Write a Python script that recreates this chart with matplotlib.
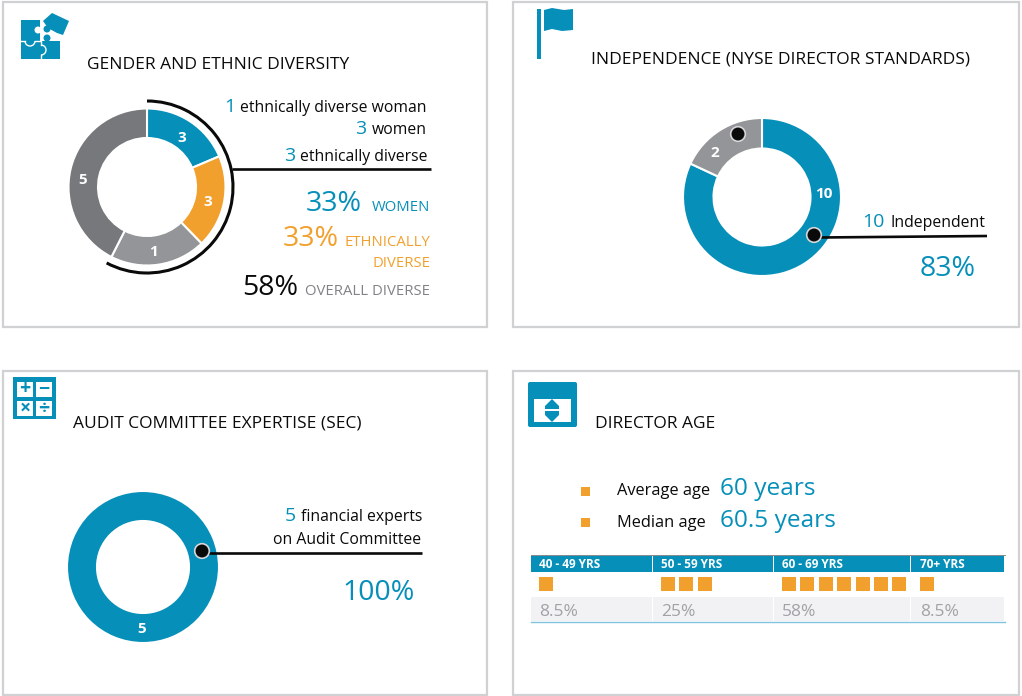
import matplotlib
matplotlib.use('Agg')
import matplotlib.pyplot as plt
from matplotlib.patches import Rectangle, Circle, Arc, Polygon, FancyBboxPatch

plt.rcParams['font.family'] = ['Open Sans', 'DejaVu Sans']

BLUE = '#058fb9'
ORANGE = '#f2a02d'
DARK_GRAY = '#77787b'
LIGHT_GRAY = '#939598'
BORDER = '#d0d1d3'
BLACK = '#0a0a0a'
W, H = 1022, 696

# slice sizes are as drawn in the picture (degrees), labels are the printed counts
gender_sizes = [67, 69, 71, 153]
gender_labels = ['3', '3', '1', '5']
gender_colors = [BLUE, ORANGE, LIGHT_GRAY, DARK_GRAY]

indep_sizes = [295, 65]
indep_labels = ['10', '2']
indep_colors = [BLUE, LIGHT_GRAY]

audit_sizes = [5]
audit_labels = ['5']

age_buckets = ['40 - 49 YRS', '50 - 59 YRS', '60 - 69 YRS', '70+ YRS']
age_counts = [1, 3, 7, 1]
age_pcts = ['8.5%', '25%', '58%', '8.5%']

fig = plt.figure(figsize=(W / 100, H / 100), dpi=100)
ax = fig.add_axes([0, 0, 1, 1])


def Y(py):
    # picture pixels count down from the top
    return H - py


def txt(x, y, s, size, color=BLACK, ha='left', va='baseline', weight='normal'):
    ax.text(x, Y(y), s, fontsize=size, color=color, ha=ha, va=va, fontweight=weight, zorder=7)


def rect(x0, y0, x1, y1, color, zorder=2):
    ax.add_patch(Rectangle((x0, Y(y1)), x1 - x0, y1 - y0, facecolor=color, edgecolor='none', zorder=zorder))


def donut(sizes, colors, cx, cy, r_out, r_in, edge=1.5):
    # the white edge eats about a pixel on each rim
    ax.pie(sizes, colors=colors, startangle=90, counterclock=False, center=(cx, Y(cy)), radius=r_out + 1,
           wedgeprops=dict(width=r_out - r_in + 2, edgecolor='white', linewidth=edge), normalize=True, frame=True)


def dot(x, y):
    ax.add_patch(Circle((x, Y(y)), 7.3, facecolor=BLACK, edgecolor='#d5d6d8', linewidth=1.2, zorder=6))


def hline(x0, x1, y0, y1=None):
    ax.plot([x0, x1], [Y(y0), Y(y0 if y1 is None else y1)], color=BLACK, lw=1.9, solid_capstyle='butt', zorder=5)


# donuts first, ax.pie resets the limits
donut(gender_sizes, gender_colors, 147, 187, 77.5, 50)
donut(indep_sizes, indep_colors, 762, 197, 78, 49.5)
donut(audit_sizes, [BLUE], 143, 567, 75, 47)

# panel borders
for x0, y0, x1, y1 in [(3, 2, 487, 327), (513, 2, 1019, 327), (3, 371, 487, 695), (513, 371, 1019, 695)]:
    ax.add_patch(Rectangle((x0, Y(y1)), x1 - x0, y1 - y0, facecolor='none', edgecolor=BORDER, linewidth=1.6))

# titles
txt(87, 69, 'GENDER AND ETHNIC DIVERSITY', 12.5)
txt(591, 64, 'INDEPENDENCE (NYSE DIRECTOR STANDARDS)', 12.5)
txt(73, 427, 'AUDIT COMMITTEE EXPERTISE (SEC)', 12.5)
txt(595, 428, 'DIRECTOR AGE', 12.5)

# gender panel
for (x, y), s in zip([(182, 138), (208, 202), (153, 252), (83, 180)], gender_labels):
    txt(x, y, s, 11, 'white', ha='center', va='center', weight='bold')
ax.add_patch(Arc((147, Y(187)), 172, 172, theta1=90 - 208, theta2=90, color=BLACK, lw=2.2, zorder=5))
hline(232, 431, 168.7)
txt(427, 112, 'ethnically diverse woman', 11.3, ha='right')
txt(235, 112, '1', 14, BLUE, ha='right')
txt(427, 134, 'women', 11.3, ha='right')
txt(366, 134, '3', 14, BLUE, ha='right')
txt(427, 160.7, 'ethnically diverse', 11.3, ha='right')
txt(295, 160.7, '3', 14, BLUE, ha='right')
txt(362, 211, '33%', 20.5, BLUE, ha='right')
txt(430, 211, 'WOMEN', 10.7, BLUE, ha='right')
txt(339, 245.7, '33%', 20.5, ORANGE, ha='right')
txt(430, 245.7, 'ETHNICALLY', 10.7, ORANGE, ha='right')
txt(430, 266.7, 'DIVERSE', 10.7, ORANGE, ha='right')
txt(298, 295, '58%', 20.5, BLACK, ha='right')
txt(430, 295, 'OVERALL DIVERSE', 10.7, '#808285', ha='right')

# independence panel
txt(824, 194, indep_labels[0], 11, 'white', ha='center', va='center', weight='bold')
txt(715, 153, indep_labels[1], 11, 'white', ha='center', va='center', weight='bold')
dot(738, 134)
dot(814, 235)
hline(820, 987, 237.5, 236)
txt(985, 226.7, 'Independent', 11.3, ha='right')
txt(885, 226.7, '10', 14, BLUE, ha='right')
txt(976, 276, '83%', 20.5, BLUE, ha='right')

# audit panel
txt(142, 629, audit_labels[0], 11, 'white', ha='center', va='center', weight='bold')
dot(202, 551)
hline(208, 422, 552.7)
txt(422, 521, 'financial experts', 11.3, ha='right')
txt(296, 521, '5', 14, BLUE, ha='right')
txt(421, 544, 'on Audit Committee', 11.3, ha='right')
txt(415, 600, '100%', 20.5, BLUE, ha='right')

# age panel
rect(581, 487, 590, 495.5, ORANGE)
rect(581, 518, 590, 526.5, ORANGE)
txt(617, 495, 'Average age', 11.8)
txt(720, 495, '60 years', 17.6, BLUE)
txt(617, 526.7, 'Median age', 11.8)
txt(720, 526.7, '60.5 years', 17.6, BLUE)

col_left = [531, 653, 774, 911]
col_right = [652, 773, 910, 1004]
col_text = [539, 661, 782, 920]
square_step = 18.4
for i, bucket in enumerate(age_buckets):
    rect(col_left[i], 555, col_right[i], 572, BLUE)
    rect(col_left[i], 597, col_right[i], 621, '#f2f2f4')
    txt(col_text[i], 568, bucket, 8.5, 'white', weight='bold')
    txt(col_text[i], 615.7, age_pcts[i], 12.5, '#a0a2a5')
    for k in range(age_counts[i]):
        rect(col_text[i] + k * square_step, 577, col_text[i] + k * square_step + 14, 591, ORANGE)
ax.plot([531, 1005], [Y(555), Y(555)], color='#8a8c8e', lw=0.7, zorder=3)
ax.plot([531, 1005], [Y(621.5), Y(621.5)], color='#7fc4dc', lw=1.0, zorder=3)

# puzzle icon
rect(21, 20, 40, 41, BLUE)
rect(21, 41, 60, 59, BLUE)
ax.add_patch(Polygon([(52, Y(13)), (69, Y(21)), (63, Y(35)), (57, Y(33)), (48, Y(28)), (43, Y(21))],
                     facecolor=BLUE, edgecolor='none', zorder=3))
ax.add_patch(Circle((38, Y(30)), 3.5, facecolor='white', edgecolor='none', zorder=4))
ax.add_patch(Circle((47, Y(29)), 3.5, facecolor=BLUE, edgecolor='none', zorder=5))
ax.add_patch(Circle((47, Y(38)), 3.5, facecolor=BLUE, edgecolor='none', zorder=5))
ax.add_patch(Arc((30, Y(41)), 10, 10, theta1=180, theta2=360, color='white', lw=1.0, zorder=4))
ax.add_patch(Arc((41, Y(50)), 10, 10, theta1=270, theta2=90, color='white', lw=1.0, zorder=4))
ax.plot([21, 25], [Y(41), Y(41)], color='white', lw=1.0, zorder=4)
ax.plot([35, 41, 41], [Y(41), Y(41), Y(45)], color='white', lw=1.0, zorder=4)
ax.plot([41, 41], [Y(55), Y(59)], color='white', lw=1.0, zorder=4)

# flag icon
rect(537, 9, 541, 59, BLUE)
ax.add_patch(Polygon([(544, Y(10)), (552, Y(8)), (564, Y(10)), (573, Y(9)), (573, Y(30)), (562, Y(31)), (552, Y(29)),
                      (544, Y(31))], facecolor=BLUE, edgecolor='none', zorder=3))

# calculator icon
rect(13, 377, 56, 419, BLUE)
for (x0, y0), s in zip([(17, 382), (36, 382), (17, 401), (36, 401)], ['+', '\u2212', '\u00d7', '\u00f7']):
    rect(x0, y0, x0 + 16, y0 + 15, 'white', zorder=3)
    ax.text(x0 + 8, Y(y0 + 7.5), s, fontsize=14, color=BLUE, ha='center', va='center', fontweight='bold', zorder=4)

# age icon
ax.add_patch(FancyBboxPatch((528, Y(427)), 49, 45, boxstyle='round,pad=0,rounding_size=2', facecolor=BLUE,
                            edgecolor='none', zorder=2))
rect(533.5, 399, 571, 422, 'white', zorder=3)
ax.add_patch(Polygon([(545, Y(406)), (552, Y(399)), (559, Y(406)), (559, Y(409)), (545, Y(409))],
                     facecolor=BLUE, edgecolor='none', zorder=4))
ax.add_patch(Polygon([(545, Y(411)), (559, Y(411)), (559, Y(415)), (552, Y(422)), (545, Y(415))],
                     facecolor=BLUE, edgecolor='none', zorder=4))

ax.set_xlim(0, W)
ax.set_ylim(0, H)
ax.set_aspect('auto')
ax.axis('off')

fig.savefig('out.png', dpi=100)
